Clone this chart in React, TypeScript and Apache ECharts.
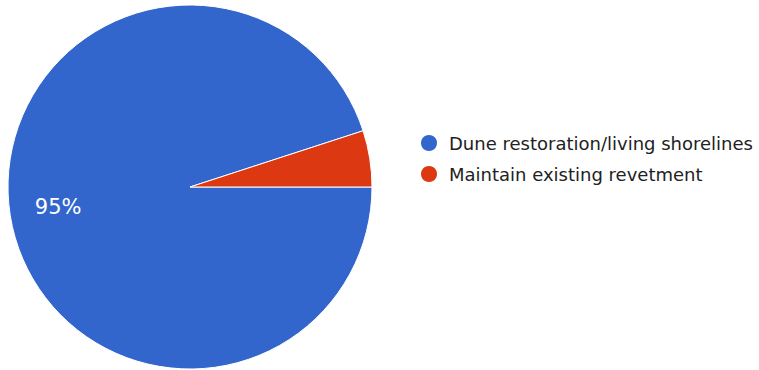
import React, { useEffect, useRef } from "react";
import * as echarts from "echarts";

const categories = ["Dune restoration/living shorelines", "Maintain existing revetment"];
const values = [95, 5];
const colors = ["#3366cc", "#dc3912"];

export default function App() {
  const ref = useRef<HTMLDivElement>(null);
  useEffect(() => {
    if (!ref.current) return;
    const chart = echarts.init(ref.current, undefined, { renderer: "svg" });
    const total = values.reduce((a, b) => a + b, 0);
    chart.setOption({
      animation: false,
      backgroundColor: "#ffffff",
      color: colors,
      legend: {
        orient: "vertical",
        left: 414,
        top: 128,
        padding: 5,
        icon: "circle",
        itemWidth: 18,
        itemHeight: 18,
        itemGap: 11,
        data: categories,
        textStyle: {
          fontFamily: "DejaVu Sans, sans-serif",
          fontSize: 18,
          lineHeight: 18,
          color: "#222222",
          padding: [0, 0, 0, 6],
        },
      },
      series: [
        {
          type: "pie",
          center: [190, 187],
          radius: [0, 182],
          startAngle: 0,
          clockwise: true,
          avoidLabelOverlap: false,
          itemStyle: { borderColor: "#ffffff", borderWidth: 1 },
          label: {
            show: true,
            position: "inside",
            color: "#ffffff",
            fontFamily: "DejaVu Sans, sans-serif",
            fontSize: 21,
            formatter: (p: any) => (p.value / total >= 0.06 ? Math.round((p.value / total) * 100) + "%" : ""),
          },
          labelLine: { show: false },
          data: categories.map((name, i) => ({
            name,
            value: values[i],
            label: i === 0 ? { offset: [-39, 5] } : { show: false },
          })),
        },
      ],
    });
    return () => chart.dispose();
  }, []);
  return (
    <div
      ref={ref}
      style={{ position: "fixed", left: 0, top: 0, width: 759, height: 370 }}
    />
  );
}
